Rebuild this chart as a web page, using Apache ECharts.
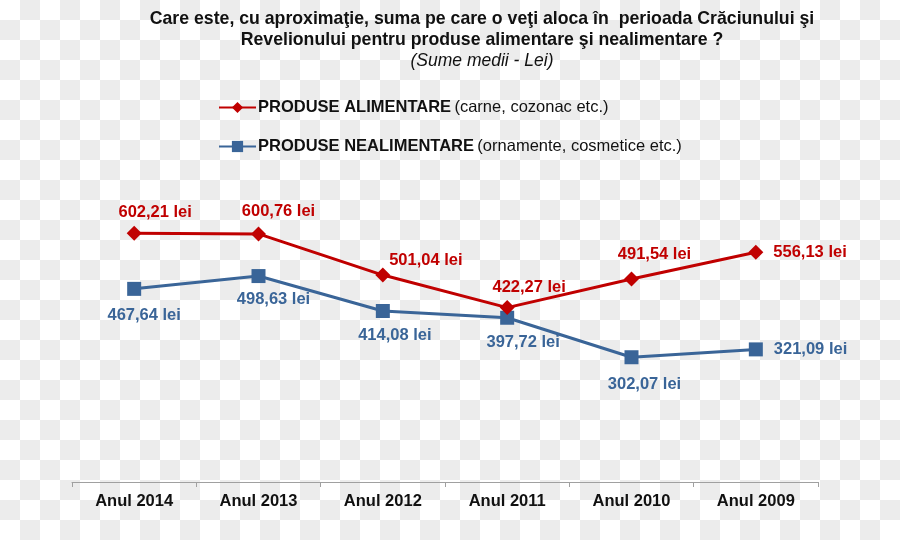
<!DOCTYPE html>
<html>
<head>
<meta charset="utf-8">
<script src="https://cdn.jsdelivr.net/npm/echarts@6/dist/echarts.min.js"></script>
<style>
  html, body { margin: 0; padding: 0; }
  body {
    width: 900px; height: 540px;
    background-color: #fff;
    background-image: conic-gradient(#ececec 0 90deg, #fff 90deg 180deg, #ececec 180deg 270deg, #fff 270deg 360deg);
    background-size: 40px 40px;
  }
  #chart { width: 900px; height: 540px; }
</style>
</head>
<body>
<div id="chart"></div>
<script>
// date
var categories = ['Anul 2014', 'Anul 2013', 'Anul 2012', 'Anul 2011', 'Anul 2010', 'Anul 2009']
var alimentare = [602.21, 600.76, 501.04, 422.27, 491.54, 556.13]
var nealimentare = [467.64, 498.63, 414.08, 397.72, 302.07, 321.09]
var seriesNames = ['PRODUSE ALIMENTARE', 'PRODUSE NEALIMENTARE']
var seriesNotes = ['(carne, cozonac etc.)', '(ornamente, cosmetice etc.)']

var red = '#c00000'
var blue = '#3a6598'
var font = 'Arial, "Liberation Sans", sans-serif'

function fmt(v) {
  return v.toFixed(2).replace('.', ',') + ' lei'
}

// pozitia etichetelor fata de centrul punctului
var redLabelPos = [
  { position: 'inside', offset: [21, -21] },
  { position: 'inside', offset: [20, -22] },
  { position: 'inside', offset: [43, -15] },
  { position: 'inside', offset: [22, -20] },
  { position: 'inside', offset: [23, -25] },
  { position: 'right', offset: [5, 0] }
]
var blueLabelPos = [
  { position: 'inside', offset: [10, 27] },
  { position: 'inside', offset: [15, 23] },
  { position: 'inside', offset: [12, 24] },
  { position: 'inside', offset: [16, 25] },
  { position: 'inside', offset: [13, 27] },
  { position: 'right', offset: [6, 0] }
]

function buildData(values, pos, color) {
  return values.map(function (v, i) {
    return {
      value: v,
      label: {
        show: true,
        position: pos[i].position,
        offset: pos[i].offset,
        formatter: function (p) { return fmt(p.value) },
        color: color,
        fontSize: 16.5,
        fontWeight: 'bold',
        fontFamily: font
      }
    }
  })
}

var chart = echarts.init(document.getElementById('chart'), null, { renderer: 'canvas' })

var option = {
  backgroundColor: 'transparent',
  animation: false,
  title: {
    text: 'Care este, cu aproximaţie, suma pe care o veţi aloca în  perioada Crăciunului şi\nRevelionului pentru produse alimentare şi nealimentare ?',
    subtext: '(Sume medii - Lei)',
    left: 477,
    textAlign: 'center',
    top: 4,
    itemGap: 1,
    textStyle: {
      fontFamily: font,
      fontSize: 17.7,
      fontWeight: 'bold',
      color: '#111',
      lineHeight: 21
    },
    subtextStyle: {
      fontFamily: font,
      fontSize: 17.5,
      fontStyle: 'italic',
      color: '#111'
    }
  },
  legend: {
    orient: 'vertical',
    left: 213,
    top: 94,
    itemGap: 22,
    itemWidth: 37,
    itemHeight: 14,
    data: seriesNames,
    formatter: function (name) {
      var i = seriesNames.indexOf(name)
      return '{b|' + name + '} {n|' + seriesNotes[i] + '}'
    },
    textStyle: {
      padding: [0, 0, 0, -3],
      rich: {
        b: { fontFamily: font, fontSize: 16.5, fontWeight: 'bold', color: '#111' },
        n: { fontFamily: font, fontSize: 16.5, color: '#111' }
      }
    }
  },
  grid: {
    left: 72,
    right: 82,
    top: 69,
    bottom: 58,
    containLabel: false
  },
  xAxis: {
    type: 'category',
    data: categories,
    boundaryGap: true,
    axisLine: { lineStyle: { color: '#a0a0a0', width: 1 } },
    axisTick: { show: true, length: 5, lineStyle: { color: '#a0a0a0' } },
    axisLabel: {
      margin: 11,
      color: '#111',
      fontFamily: font,
      fontSize: 16.5,
      fontWeight: 'bold'
    }
  },
  yAxis: {
    type: 'value',
    min: 0,
    max: 1000,
    show: false,
    splitLine: { show: false }
  },
  series: [
    {
      name: seriesNames[0],
      type: 'line',
      data: buildData(alimentare, redLabelPos, red),
      symbol: 'diamond',
      symbolSize: 15,
      lineStyle: { color: red, width: 3 },
      itemStyle: { color: red },
      z: 3
    },
    {
      name: seriesNames[1],
      type: 'line',
      data: buildData(nealimentare, blueLabelPos, blue),
      symbol: 'rect',
      symbolSize: 14,
      lineStyle: { color: blue, width: 3 },
      itemStyle: { color: blue },
      z: 2
    }
  ]
}

chart.setOption(option)
</script>
</body>
</html>
